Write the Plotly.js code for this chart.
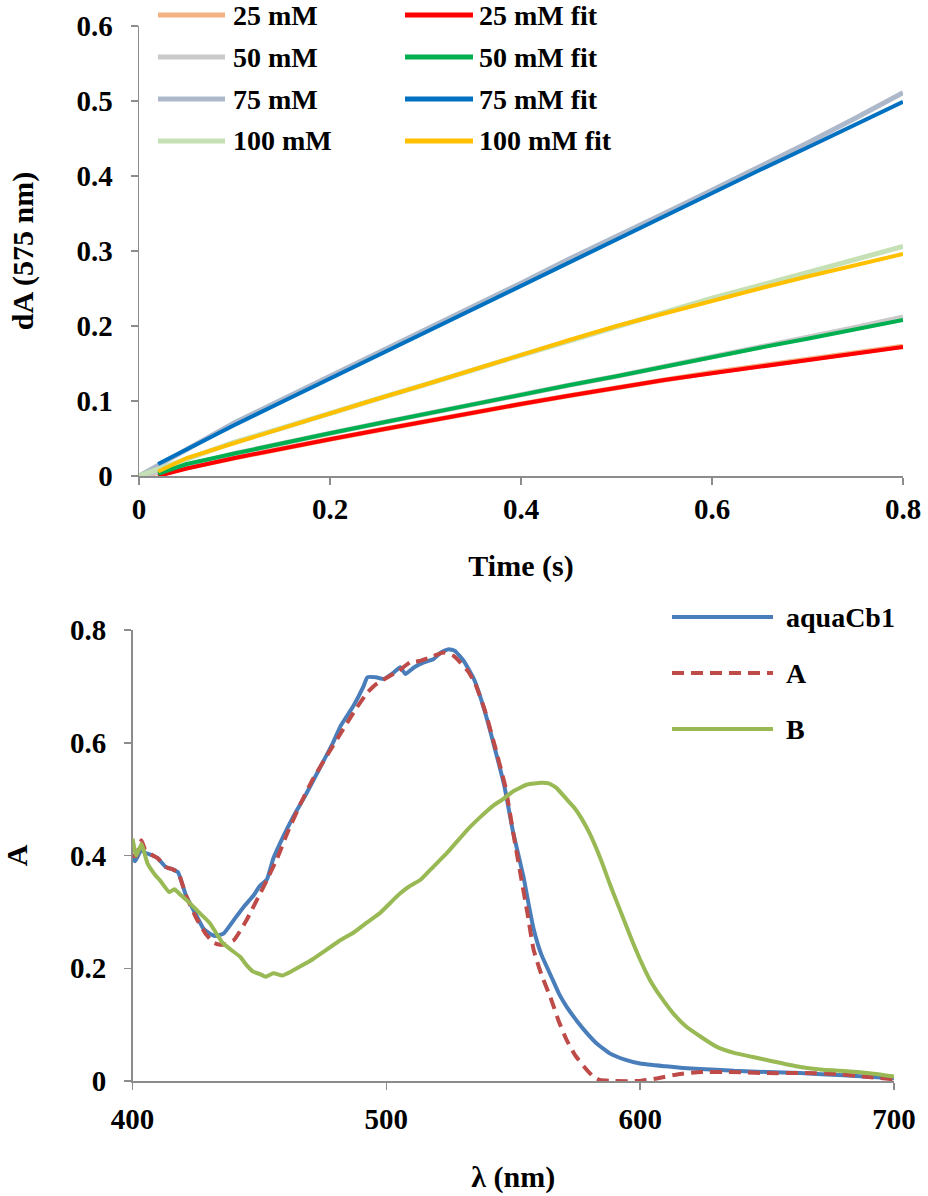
<!DOCTYPE html>
<html>
<head>
<meta charset="utf-8">
<script src="https://cdn.plot.ly/plotly-3.0.1.min.js"></script>
<style>html,body{margin:0;padding:0;background:#fff;}#chart{width:928px;height:1196px;}</style>
</head>
<body>
<div id="chart"></div>
<script>
// ---------- Top panel: kinetic traces at 575 nm ----------
var timeData = [0, 0.05, 0.1, 0.15, 0.2, 0.25, 0.3, 0.35, 0.4, 0.45, 0.5, 0.55, 0.6, 0.65, 0.7, 0.75, 0.8];
var data25  = [0, 0.011, 0.024, 0.037, 0.049, 0.061, 0.073, 0.085, 0.096, 0.107, 0.118, 0.128, 0.138, 0.147, 0.156, 0.165, 0.173];
var data50  = [0, 0.013, 0.030, 0.044, 0.057, 0.070, 0.083, 0.096, 0.108, 0.121, 0.133, 0.146, 0.158, 0.171, 0.184, 0.198, 0.212];
var data75  = [0, 0.036, 0.071, 0.102, 0.133, 0.163, 0.194, 0.225, 0.257, 0.289, 0.319, 0.350, 0.381, 0.412, 0.444, 0.477, 0.511];
var data100 = [0, 0.023, 0.045, 0.064, 0.084, 0.103, 0.122, 0.142, 0.161, 0.180, 0.199, 0.218, 0.237, 0.254, 0.271, 0.289, 0.306];

var timeFit = [0.02, 0.05, 0.1, 0.15, 0.2, 0.25, 0.3, 0.35, 0.4, 0.45, 0.5, 0.55, 0.6, 0.65, 0.7, 0.75, 0.8];
var fit25  = [0.000, 0.010, 0.024, 0.037, 0.049, 0.061, 0.073, 0.085, 0.096, 0.107, 0.118, 0.128, 0.137, 0.146, 0.155, 0.164, 0.172];
var fit50  = [0.003, 0.016, 0.030, 0.044, 0.057, 0.070, 0.083, 0.096, 0.108, 0.121, 0.133, 0.146, 0.158, 0.171, 0.183, 0.196, 0.208];
var fit75  = [0.016, 0.036, 0.068, 0.099, 0.130, 0.161, 0.192, 0.222, 0.253, 0.284, 0.315, 0.346, 0.377, 0.408, 0.438, 0.469, 0.499];
var fit100 = [0.006, 0.024, 0.044, 0.064, 0.083, 0.103, 0.122, 0.142, 0.162, 0.181, 0.200, 0.217, 0.234, 0.250, 0.266, 0.281, 0.296];

var topNames = ["25 mM", "50 mM", "75 mM", "100 mM", "25 mM fit", "50 mM fit", "75 mM fit", "100 mM fit"];
var topColors = ["#F4B183", "#C9C9C9", "#ADB9CA", "#C5E0B4", "#FF0000", "#00B050", "#0070C0", "#FFC000"];
var topXTicks = [0, 0.2, 0.4, 0.6, 0.8];
var topYTicks = [0, 0.1, 0.2, 0.3, 0.4, 0.5, 0.6];

// ---------- Bottom panel: spectra ----------
var lamAqua = [400, 401, 403.5, 405, 408, 410, 413, 416, 418, 421, 425, 428, 431, 433, 436, 440, 444, 447.5, 450, 453, 455.5, 459, 463.5, 468.5, 474, 479, 482, 487, 491, 492.5, 496, 499, 503, 505.5, 507.5, 511, 515, 518.5, 521.5, 524.5, 527, 530.5, 534.5, 538.5, 542.5, 546.5, 550, 554, 556, 558, 561, 565, 568, 571, 575, 579, 583, 588, 594, 600, 610, 617, 630, 637, 650, 663, 680, 700];
var aquaCb1 = [0.395, 0.39, 0.41, 0.405, 0.40, 0.395, 0.38, 0.375, 0.37, 0.33, 0.295, 0.27, 0.26, 0.257, 0.262, 0.286, 0.31, 0.328, 0.345, 0.358, 0.395, 0.43, 0.47, 0.51, 0.557, 0.60, 0.63, 0.665, 0.70, 0.716, 0.716, 0.713, 0.725, 0.734, 0.722, 0.734, 0.743, 0.748, 0.76, 0.766, 0.763, 0.745, 0.713, 0.66, 0.594, 0.523, 0.44, 0.363, 0.315, 0.27, 0.225, 0.185, 0.155, 0.132, 0.107, 0.085, 0.066, 0.049, 0.038, 0.031, 0.026, 0.023, 0.02, 0.018, 0.016, 0.014, 0.01, 0.005];

var lamA = [400, 401.5, 403.5, 405, 408, 410, 413, 416, 418, 421, 425, 429, 432, 434, 436, 440, 445, 450, 453, 457, 461, 466, 471, 477, 483, 488, 492.5, 496, 502, 505, 509.5, 513, 517, 522.5, 526.5, 532, 535, 539, 543, 547, 550, 553, 555.5, 558, 561, 565, 568, 571, 574.5, 578, 581, 584, 590, 600, 607, 615, 624, 635, 650, 665, 676, 690, 700];
var specA = [0.40, 0.399, 0.427, 0.41, 0.40, 0.395, 0.38, 0.375, 0.37, 0.33, 0.29, 0.26, 0.245, 0.242, 0.242, 0.25, 0.286, 0.33, 0.357, 0.395, 0.44, 0.49, 0.535, 0.58, 0.624, 0.66, 0.689, 0.704, 0.72, 0.728, 0.743, 0.745, 0.751, 0.760, 0.754, 0.728, 0.705, 0.655, 0.59, 0.52, 0.44, 0.363, 0.30, 0.233, 0.19, 0.144, 0.105, 0.073, 0.045, 0.025, 0.01, 0.002, 0, 0, 0.005, 0.012, 0.016, 0.016, 0.014, 0.014, 0.013, 0.007, 0.003];

var lamB = [400, 401.5, 403.5, 406, 409, 411, 414.5, 416.5, 419, 422.5, 426, 430.5, 433, 435.5, 439, 442.5, 445, 447.5, 450, 452.5, 455.5, 459, 462, 466, 471, 476.5, 482, 487, 492, 497.5, 502, 505.5, 509, 513.5, 518.5, 524, 532, 537, 542, 546, 550, 555.5, 561, 564, 567, 571, 574, 577, 580, 584.5, 588, 592, 596, 600, 604, 608, 613, 618, 624, 630, 637, 644, 652, 663, 672, 683, 692, 700];
var specB = [0.43, 0.40, 0.42, 0.385, 0.365, 0.355, 0.335, 0.34, 0.33, 0.316, 0.30, 0.28, 0.262, 0.245, 0.232, 0.22, 0.205, 0.194, 0.19, 0.185, 0.191, 0.187, 0.193, 0.203, 0.216, 0.233, 0.25, 0.263, 0.28, 0.298, 0.318, 0.333, 0.345, 0.357, 0.38, 0.405, 0.446, 0.468, 0.488, 0.50, 0.514, 0.526, 0.529, 0.528, 0.52, 0.50, 0.485, 0.465, 0.44, 0.393, 0.35, 0.304, 0.258, 0.215, 0.178, 0.15, 0.12, 0.097, 0.078, 0.061, 0.05, 0.043, 0.035, 0.025, 0.02, 0.017, 0.013, 0.008];

var botNames = ["aquaCb1", "A", "B"];
var botColors = ["#4A7EBB", "#BE4B48", "#98B954"];
var botXTicks = [400, 500, 600, 700];
var botYTicks = [0, 0.2, 0.4, 0.6, 0.8];

// ---------- Build figure ----------
var W = 928, H = 1196;
function px(x) { return x / W; }
function py(y) { return 1 - y / H; }

var FONT = "Liberation Serif, Times New Roman, serif";
var topData = [data25, data50, data75, data100];
var topFit = [fit25, fit50, fit75, fit100];
var traces = [];
for (var i = 0; i < 4; i++) {
  traces.push({x: timeData, y: topData[i], type: "scatter", mode: "lines", name: topNames[i],
    line: {color: topColors[i], width: 5}, xaxis: "x", yaxis: "y", showlegend: false});
}
for (var j = 0; j < 4; j++) {
  traces.push({x: timeFit, y: topFit[j], type: "scatter", mode: "lines", name: topNames[4 + j],
    line: {color: topColors[4 + j], width: 4}, xaxis: "x", yaxis: "y", showlegend: false});
}
var botX = [lamAqua, lamA, lamB];
var botY = [aquaCb1, specA, specB];
var botDash = ["solid", "12px,7px", "solid"];
for (var k = 0; k < 3; k++) {
  traces.push({x: botX[k], y: botY[k], type: "scatter", mode: "lines", name: botNames[k],
    line: {color: botColors[k], width: 4, dash: botDash[k], shape: "spline", smoothing: 0.4},
    xaxis: "x2", yaxis: "y2", showlegend: false});
}

// custom legends (long swatches as in the original)
var shapes = [], annotations = [];
var topRows = [15, 57, 99, 141];
for (var r = 0; r < 8; r++) {
  var col = r < 4 ? 0 : 1;
  var yy = topRows[r % 4];
  var x0 = col === 0 ? 158 : 405, x1 = col === 0 ? 225 : 473, tx = col === 0 ? 231 : 477;
  shapes.push({type: "line", xref: "paper", yref: "paper", x0: px(x0), x1: px(x1), y0: py(yy), y1: py(yy),
    line: {color: topColors[r], width: 5}});
  annotations.push({xref: "paper", yref: "paper", x: px(tx), y: py(yy), xanchor: "left", yanchor: "middle",
    text: topNames[r], showarrow: false, font: {family: FONT, size: 28, color: "#000", weight: "bold"}});
}
var botRows = [617, 673, 729];
for (var b = 0; b < 3; b++) {
  shapes.push({type: "line", xref: "paper", yref: "paper", x0: px(672), x1: px(773), y0: py(botRows[b]), y1: py(botRows[b]),
    line: {color: botColors[b], width: 4, dash: botDash[b]}});
  annotations.push({xref: "paper", yref: "paper", x: px(784), y: py(botRows[b]), xanchor: "left", yanchor: "middle",
    text: botNames[b], showarrow: false, font: {family: FONT, size: 28, color: "#000", weight: "bold"}});
}

var tickFont = {family: FONT, size: 29, color: "#000", weight: "bold"};
var titleFont = {family: FONT, size: 30, color: "#000", weight: "bold"};
function axisCommon(extra) {
  var a = {showgrid: false, zeroline: false, showline: true, linecolor: "#8C8C8C", linewidth: 1.5,
    ticks: "outside", ticklen: 7, tickwidth: 1.5, tickcolor: "#8C8C8C", tickfont: tickFont,
    layer: "below traces", fixedrange: true, automargin: false};
  for (var key in extra) a[key] = extra[key];
  return a;
}

var layout = {
  width: W, height: H,
  margin: {l: 0, r: 0, t: 0, b: 0},
  font: {family: FONT, color: "#000"},
  paper_bgcolor: "#fff", plot_bgcolor: "rgba(0,0,0,0)",
  showlegend: false,
  xaxis: axisCommon({domain: [px(139), px(903)], range: [0, 0.8], tickvals: topXTicks, anchor: "y",
    ticklabelstandoff: 0, title: {text: "Time (s)", font: titleFont, standoff: 30}}),
  yaxis: axisCommon({domain: [py(476), py(26)], range: [0, 0.6], tickvals: topYTicks, anchor: "x",
    ticklabelstandoff: 12, title: {text: "dA (575 nm)", font: titleFont, standoff: 34}}),
  xaxis2: axisCommon({domain: [px(132.5), px(894)], range: [400, 700], tickvals: botXTicks, anchor: "y2",
    ticklabelstandoff: 5, title: {text: "λ (nm)", font: titleFont, standoff: 31}}),
  yaxis2: axisCommon({domain: [py(1081), py(630)], range: [0, 0.8], tickvals: botYTicks, anchor: "x2",
    ticklabelstandoff: 12, title: {text: "A", font: titleFont, standoff: 40}}),
  shapes: shapes,
  annotations: annotations
};

Plotly.newPlot("chart", traces, layout, {staticPlot: true, displayModeBar: false});
</script>
</body>
</html>
